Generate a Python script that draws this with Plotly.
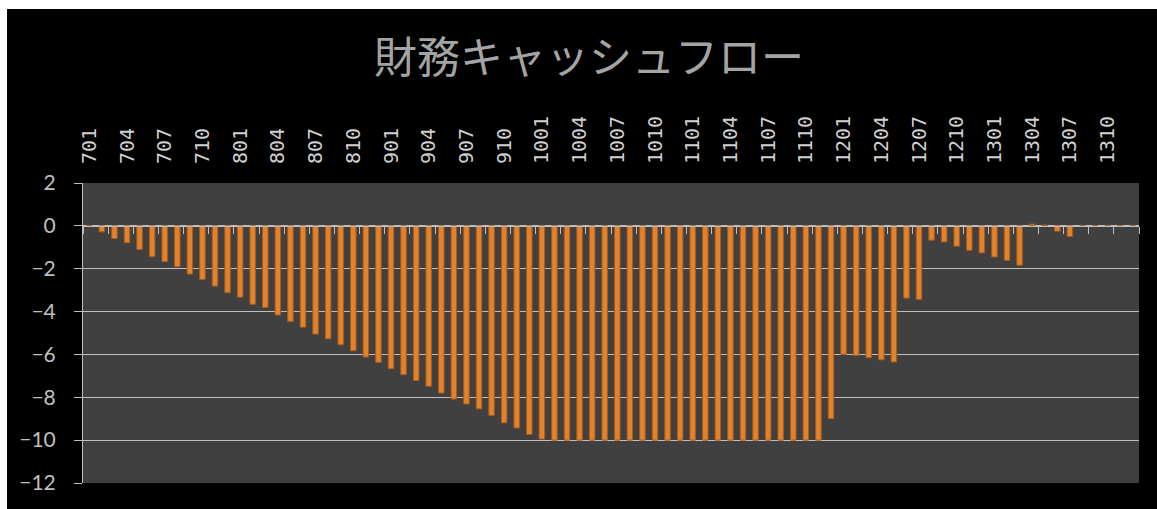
import plotly.graph_objects as go

# ---- data ----
years = [7, 8, 9, 10, 11, 12, 13]
categories = [f"{y}{m:02d}" for y in years for m in range(1, 13)]  # 701 ... 1312

values = [
    0.00, -0.28, -0.59, -0.79, -1.10, -1.44, -1.67, -1.91, -2.25, -2.50, -2.81, -3.12,   # 2007
    -3.33, -3.66, -3.81, -4.16, -4.47, -4.73, -5.05, -5.27, -5.55, -5.83, -6.12, -6.37,  # 2008
    -6.67, -6.95, -7.22, -7.48, -7.80, -8.08, -8.31, -8.54, -8.85, -9.19, -9.43, -9.74,  # 2009
    -9.95, -10.0, -10.0, -10.0, -10.0, -10.0, -10.0, -10.0, -10.0, -10.0, -10.0, -10.0,  # 2010
    -10.0, -10.0, -10.0, -10.0, -10.0, -10.0, -10.0, -10.0, -10.0, -10.0, -10.0, -9.0,   # 2011
    -6.0, -6.05, -6.15, -6.25, -6.35, -3.37, -3.43, -0.67, -0.75, -0.95, -1.14, -1.26,   # 2012
    -1.45, -1.61, -1.84, 0.08, 0.04, -0.25, -0.50, 0.0, 0.0, 0.0, 0.0, 0.0,              # 2013
]

tick_labels = categories[::3]  # 701, 704, ... 1310
title_text = "財務キャッシュフロー"

y_min, y_max, y_step = -12, 2, 2
zero_pos = (0 - y_min) / (y_max - y_min)
x_range = [-0.5, len(categories) - 0.5]

grey = "#bfbfbf"
fig_w, fig_h = 1150, 500

fig = go.Figure()
fig.add_trace(go.Bar(
    x=categories, y=values, xaxis="x", yaxis="y",
    marker=dict(color="#e3822c", line=dict(color="#a85a18", width=1)),
    width=0.44, showlegend=False,
))
# helper trace carrying the top category labels
fig.add_trace(go.Scatter(
    x=categories, y=values, xaxis="x2", yaxis="y",
    mode="markers", marker=dict(opacity=0), hoverinfo="skip", showlegend=False,
))

fig.update_layout(
    width=fig_w, height=fig_h,
    margin=dict(l=76, r=18, t=174, b=26),
    paper_bgcolor="#000000",
    plot_bgcolor="#404040",
    title=dict(
        text=title_text, x=582 / fig_w, xanchor="center", y=1 - 49 / fig_h, yanchor="middle",
        font=dict(family="Noto Sans CJK JP", size=43, color="#a4a4a4"),
    ),
    xaxis=dict(
        type="category", anchor="free", position=zero_pos, domain=[0, 1],
        range=x_range, showline=True, linecolor=grey, linewidth=1,
        ticks="outside", tickson="boundaries", ticklen=7, tickcolor=grey,
        showticklabels=False, showgrid=False, zeroline=False, fixedrange=True,
    ),
    xaxis2=dict(
        type="category", overlaying="x", side="top", anchor="y",
        range=x_range, tickmode="array", tickvals=tick_labels, ticktext=tick_labels,
        tickangle=-90, tickfont=dict(family="DejaVu Sans Mono", size=20, color="#d0d0d0"),
        ticks="outside", ticklen=14, tickcolor="rgba(0,0,0,0)",
        showgrid=False, showline=False, zeroline=False,
    ),
    yaxis=dict(
        range=[y_min, y_max], dtick=y_step, tick0=0,
        showgrid=True, gridcolor=grey, gridwidth=1,
        showline=True, linecolor=grey, linewidth=1,
        ticks="outside", ticklen=8, tickcolor=grey,
        zeroline=False, ticklabelstandoff=14,
        tickfont=dict(family="Lato", size=21, color=grey),
    ),
)

fig.write_html(
    "out.html",
    post_script="document.body.style.margin='9px 0 0 7px';document.body.style.overflow='hidden';",
)
